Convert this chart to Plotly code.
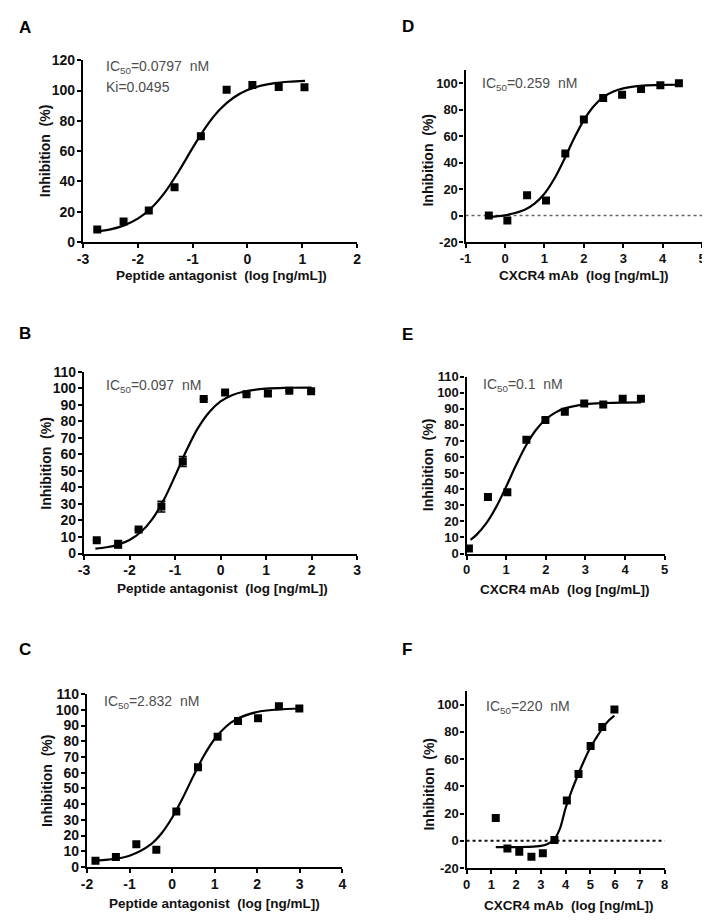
import plotly.graph_objects as go

W, H = 710, 924
FONT = "Liberation Sans, Arial, sans-serif"
NARROW = "Liberation Sans Narrow, Liberation Sans, Arial, sans-serif"

# ---------------- data ----------------
# Panel A
a_x = [-2.74, -2.26, -1.80, -1.33, -0.85, -0.38, 0.09, 0.57, 1.04]
a_y = [8.2, 13.6, 20.8, 36.1, 69.8, 100.5, 103.6, 102.3, 102.1]
a_fit_x = [-2.75, -2.5, -2.25, -2.0, -1.75, -1.5, -1.25, -1.0, -0.75, -0.5, -0.25, 0.0, 0.25, 0.5, 0.75, 1.05]
a_fit_y = [6.9, 8.3, 11.0, 15.4, 22.6, 33.1, 46.9, 62.1, 76.4, 87.6, 95.4, 100.3, 103.2, 104.9, 105.8, 106.4]

# Panel B
b_x = [-2.72, -2.25, -1.80, -1.30, -0.83, -0.37, 0.10, 0.57, 1.04, 1.51, 1.99]
b_y = [8.0, 5.6, 14.5, 28.4, 55.7, 93.5, 97.5, 96.3, 96.8, 98.5, 98.2]
b_err = [0, 2.3, 0, 3.2, 3.0, 0, 0, 0, 1.5, 0, 0]
b_fit_x = [-2.75, -2.5, -2.25, -2.0, -1.75, -1.5, -1.25, -1.0, -0.75, -0.5, -0.25, 0.0, 0.25, 0.5, 1.0, 1.5, 2.0]
b_fit_y = [3.0, 3.8, 5.4, 8.2, 13.0, 20.8, 32.3, 46.9, 62.3, 75.7, 85.5, 92.0, 95.8, 97.9, 99.8, 100.3, 100.4]

# Panel C
c_x = [-1.80, -1.32, -0.84, -0.37, 0.10, 0.61, 1.07, 1.55, 2.02, 2.51, 2.99]
c_y = [4.0, 6.3, 14.4, 10.9, 35.3, 63.5, 82.9, 92.9, 94.6, 102.3, 100.8]
c_fit_x = [-1.8, -1.5, -1.0, -0.5, -0.25, 0.0, 0.25, 0.5, 0.75, 1.0, 1.25, 1.5, 2.0, 2.5, 3.0]
c_fit_y = [4.1, 4.7, 7.2, 14.4, 21.3, 31.3, 43.9, 57.8, 70.9, 81.4, 88.9, 93.8, 98.6, 100.2, 100.8]

# Panel D
d_x = [-0.41, 0.06, 0.56, 1.04, 1.53, 2.00, 2.49, 2.97, 3.45, 3.94, 4.41]
d_y = [0.0, -3.7, 15.3, 11.4, 46.9, 72.6, 88.9, 91.4, 95.6, 98.5, 100.0]
d_fit_x = [-0.4, 0.0, 0.5, 0.75, 1.0, 1.25, 1.5, 1.75, 2.0, 2.25, 2.5, 2.75, 3.0, 3.5, 4.0, 4.4]
d_fit_y = [-0.9, 0.2, 4.3, 9.0, 16.5, 27.8, 42.4, 58.2, 72.2, 82.7, 89.7, 93.8, 96.2, 98.2, 98.8, 98.9]

# Panel E
e_x = [0.06, 0.54, 1.03, 1.51, 1.99, 2.48, 2.97, 3.45, 3.94, 4.40]
e_y = [3.1, 35.2, 38.1, 70.7, 83.1, 88.2, 93.3, 92.7, 96.2, 96.2]
e_fit_x = [0.1, 0.25, 0.5, 0.75, 1.0, 1.25, 1.5, 1.75, 2.0, 2.25, 2.5, 3.0, 3.5, 4.0, 4.4]
e_fit_y = [8.5, 11.6, 18.9, 29.0, 41.6, 55.0, 67.2, 76.8, 83.5, 87.8, 90.4, 92.8, 93.6, 93.9, 94.0]

# Panel F
f_x = [1.18, 1.65, 2.13, 2.62, 3.08, 3.55, 4.05, 4.52, 5.01, 5.48, 5.97]
f_y = [16.7, -5.6, -8.0, -11.7, -9.2, 0.5, 29.6, 49.0, 69.7, 83.7, 96.4]
f_fit_x = [1.18, 2.0, 2.5, 3.0, 3.25, 3.5, 3.75, 4.0, 4.25, 4.5, 4.75, 5.0, 5.25, 5.5, 5.75, 5.97]
f_fit_y = [-4.6, -4.6, -4.5, -3.8, -2.5, 0.2, 8.0, 24.0, 37.0, 48.5, 59.0, 68.5, 76.0, 83.0, 88.5, 92.0]

# tick labels
a_xticks = [-3, -2, -1, 0, 1, 2]
a_yticks = [0, 20, 40, 60, 80, 100, 120]
b_xticks = [-3, -2, -1, 0, 1, 2, 3]
c_xticks = [-2, -1, 0, 1, 2, 3, 4]
ten_ticks = [0, 10, 20, 30, 40, 50, 60, 70, 80, 90, 100, 110]
d_xticks = [-1, 0, 1, 2, 3, 4, 5]
df_yticks = [-20, 0, 20, 40, 60, 80, 100]
e_xticks = [0, 1, 2, 3, 4, 5]
f_xticks = [0, 1, 2, 3, 4, 5, 6, 7, 8]

PEP = "Peptide antagonist  (log [ng/mL])"
MAB = "CXCR4 mAb  (log [ng/mL])"
INH = "Inhibition  (%)"

panels = [
    dict(letter="A", box=(70, 348, 45, 230), xr=[-3, 2], yr=[0, 120], xt=a_xticks, yt=a_yticks,
         px=a_x, py=a_y, fx=a_fit_x, fy=a_fit_y, err=None, zero=None,
         label=["IC<sub>50</sub>=0.0797  nM", "Ki=0.0495"], lab_xy=(91, 52), lab_dy=20,
         xtitle=PEP, xt_xy=(210, 264), yt_xy=(31, 137), letter_xy=(3, 12), tfont=FONT, tsize=14),
    dict(letter="B", box=(71, 348, 362, 547), xr=[-3, 3], yr=[0, 110], xt=b_xticks, yt=ten_ticks,
         px=b_x, py=b_y, fx=b_fit_x, fy=b_fit_y, err=b_err, zero=None,
         label=["IC<sub>50</sub>=0.097  nM"], lab_xy=(91, 377), lab_dy=0,
         xtitle=PEP, xt_xy=(211, 583), yt_xy=(33, 455), letter_xy=(3, 323), tfont=FONT, tsize=14),
    dict(letter="C", box=(74, 333, 690, 866), xr=[-2, 4], yr=[0, 110], xt=c_xticks, yt=ten_ticks,
         px=c_x, py=c_y, fx=c_fit_x, fy=c_fit_y, err=None, zero=None,
         label=["IC<sub>50</sub>=2.832  nM"], lab_xy=(89, 698), lab_dy=0,
         xtitle=PEP, xt_xy=(203, 903), yt_xy=(33, 778), letter_xy=(3, 645), tfont=FONT, tsize=14),
    dict(letter="D", box=(458, 698, 55, 230), xr=[-1, 5], yr=[-20, 110], xt=d_xticks, yt=df_yticks,
         px=d_x, py=d_y, fx=d_fit_x, fy=d_fit_y, err=None, zero=("#666666", 1.5),
         label=["IC<sub>50</sub>=0.259  nM"], lab_xy=(473, 69), lab_dy=0,
         xtitle=MAB, xt_xy=(578, 264), yt_xy=(420, 147), letter_xy=(392, 11), tfont=FONT, tsize=13),
    dict(letter="E", box=(459, 660, 367, 547), xr=[0, 5], yr=[0, 110], xt=e_xticks, yt=ten_ticks,
         px=e_x, py=e_y, fx=e_fit_x, fy=e_fit_y, err=None, zero=None,
         label=["IC<sub>50</sub>=0.1  nM"], lab_xy=(474, 375), lab_dy=0,
         xtitle=MAB, xt_xy=(558, 584), yt_xy=(420, 457), letter_xy=(392, 324), tfont=NARROW, tsize=13),
    dict(letter="F", box=(459, 660, 687, 867), xr=[0, 8], yr=[-20, 110], xt=f_xticks, yt=df_yticks,
         px=f_x, py=f_y, fx=f_fit_x, fy=f_fit_y, err=None, zero=("#111111", 2),
         label=["IC<sub>50</sub>=220  nM"], lab_xy=(477, 703), lab_dy=0,
         xtitle=MAB, xt_xy=(562, 905), yt_xy=(421, 782), letter_xy=(392, 645), tfont=NARROW, tsize=13),
]

fig = go.Figure()
layout = dict(width=W, height=H, margin=dict(l=0, r=0, t=0, b=0),
              paper_bgcolor="white", plot_bgcolor="white", showlegend=False,
              font=dict(family=FONT, color="black"))
annotations = []
shapes = []

def fx_(px):
    return px / W

def fy_(py):
    return 1 - py / H

for i, p in enumerate(panels, start=1):
    xa = "x" if i == 1 else f"x{i}"
    ya = "y" if i == 1 else f"y{i}"
    x0, x1, ytop, ybot = p["box"]
    common = dict(showline=True, linewidth=2.2, linecolor="black", ticks="outside",
                  ticklen=4, tickwidth=2.2, tickcolor="black", showgrid=False, zeroline=False,
                  ticklabelstandoff=-1,
                  tickfont=dict(family=p["tfont"], size=p["tsize"], color="#111111", weight="bold"))
    layout["xaxis" if i == 1 else f"xaxis{i}"] = dict(
        domain=[fx_(x0), fx_(x1)], range=p["xr"], anchor=ya,
        tickvals=p["xt"], ticktext=[str(v) for v in p["xt"]], **common)
    layout["yaxis" if i == 1 else f"yaxis{i}"] = dict(
        domain=[fy_(ybot), fy_(ytop)], range=p["yr"], anchor=xa,
        tickvals=p["yt"], ticktext=[str(v) for v in p["yt"]], **common)

    if p["zero"] is not None:
        col, wd = p["zero"]
        shapes.append(dict(type="line", xref=f"{xa} domain", yref=ya, x0=0, x1=1, y0=0, y1=0,
                           line=dict(color=col, width=wd, dash="dot"), layer="below"))

    fig.add_trace(go.Scatter(x=p["fx"], y=p["fy"], mode="lines", line=dict(color="black", width=2.2, shape="spline"),
                             xaxis=xa, yaxis=ya, hoverinfo="skip"))
    sc = dict(x=p["px"], y=p["py"], mode="markers",
              marker=dict(symbol="square", size=8, color="black"), xaxis=xa, yaxis=ya)
    if p["err"] is not None:
        sc["error_y"] = dict(type="data", array=p["err"], visible=True, color="black", thickness=1.5, width=4)
    fig.add_trace(go.Scatter(**sc))

    # panel letter
    lx, ly = p["letter_xy"]
    annotations.append(dict(text=p["letter"], x=fx_(lx), y=fy_(ly), xref="paper", yref="paper",
                            xanchor="left", yanchor="middle", showarrow=False,
                            font=dict(family=FONT, size=17, weight="bold", color="black")))
    # IC50 labels
    tx, ty = p["lab_xy"]
    for k, t in enumerate(p["label"]):
        annotations.append(dict(text=t, x=fx_(tx), y=fy_(ty + k * p["lab_dy"]), xref="paper", yref="paper",
                                xanchor="left", yanchor="middle", showarrow=False,
                                font=dict(family=FONT, size=14, color="#4d4d4d")))
    # axis titles
    ax_, ay_ = p["xt_xy"]
    annotations.append(dict(text=p["xtitle"], x=fx_(ax_), y=fy_(ay_), xref="paper", yref="paper",
                            xanchor="center", yanchor="middle", showarrow=False,
                            font=dict(family=FONT, size=13.5, weight="bold", color="#111111")))
    bx, by = p["yt_xy"]
    annotations.append(dict(text=INH, x=fx_(bx), y=fy_(by), xref="paper", yref="paper",
                            xanchor="center", yanchor="middle", textangle=-90, showarrow=False,
                            font=dict(family=FONT, size=14, weight="bold", color="#111111")))

layout["annotations"] = annotations
layout["shapes"] = shapes
fig.update_layout(**layout)
fig.write_html("out.html")
